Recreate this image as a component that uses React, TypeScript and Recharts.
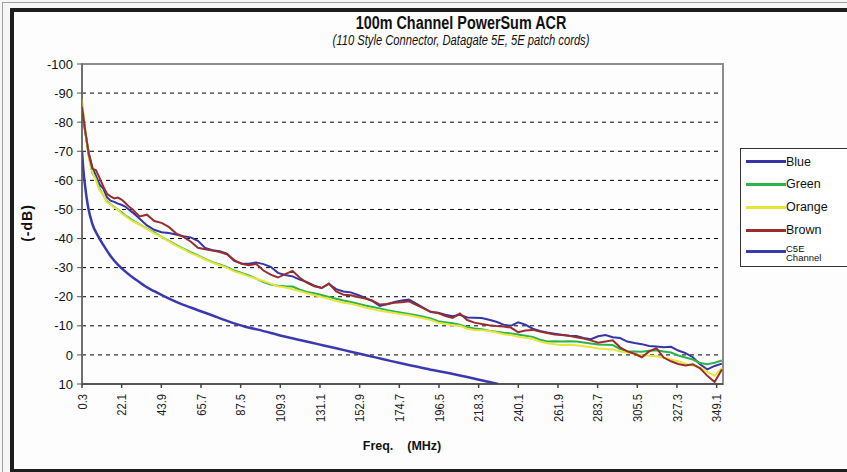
import React from "react";
import { LineChart, Line, XAxis, YAxis, CartesianGrid, ReferenceArea } from "recharts";

// frequency points (MHz) for the four measured pairs
const FREQ = [
  0.3, 2, 4, 6, 8, 10, 12, 14, 16, 18, 20, 22, 24, 26, 28, 30,
  32, 36, 40, 44, 48, 52, 56, 60, 64, 68,
  72, 76, 80, 84, 88, 92, 96, 100, 104, 108,
  112, 116, 120, 124, 128, 132, 136, 140, 144, 148,
  152, 156, 160, 164, 168, 172, 176, 180, 184, 188,
  192, 196, 200, 204, 208, 212, 216, 220, 224, 228,
  232, 236, 240, 244, 248, 252, 256, 260, 264, 268,
  272, 276, 280, 284, 288, 292, 296, 300, 304, 308,
  312, 316, 320, 324, 328, 332, 336, 340, 344, 348,
  352,
];

const BLUE = [
  -84.5, -77, -69.5, -64.5, -61.5, -58.5, -57.2, -54.2, -53.0, -52.6, -52.0, -51.6, -51.0, -50.0, -49.0, -47.9,
  -46.8, -44.5, -43.0, -42.2, -41.9, -41.4, -40.8, -40.4, -39.2, -36.8,
  -36.0, -35.6, -34.8, -32.3, -31.4, -31.3, -31.8, -31.2, -30.3, -28.2,
  -27.5, -27.0, -25.9, -25.0, -23.8, -23.0, -24.4, -22.6, -21.8, -21.5,
  -20.6, -19.6, -18.5, -16.8, -17.4, -18.2, -18.7, -19.0, -17.6, -16.2,
  -14.7, -14.5, -13.8, -13.3, -13.8, -12.9, -12.8, -12.7, -12.1, -11.4,
  -10.4, -10.0, -11.2, -10.4, -9.0, -8.2, -7.7, -7.3, -6.9, -6.6,
  -6.5, -5.8, -5.4, -6.4, -6.8, -6.1, -5.8, -4.6, -4.1, -3.7,
  -3.1, -2.9, -2.6, -2.8, -1.5, -0.6, 0.8, 3.2, 5.0, 3.8,
  3.0,
];

const GREEN = [
  -86.5, -77, -68.5, -62.5, -60.5, -57.0, -55.0, -52.8, -51.8, -50.8, -50.0, -49.0, -48.0, -47.2, -46.3, -45.6,
  -44.9, -43.4, -42.1, -40.6, -39.2, -37.8, -36.5, -35.3, -34.2, -33.0,
  -31.9, -31.1, -30.2, -29.0, -28.2, -27.3, -26.2, -25.0, -24.2, -23.8,
  -23.6, -23.5, -22.4, -21.6, -21.2, -20.6, -19.9, -19.3, -18.7, -18.2,
  -17.6, -17.0, -16.5, -16.0, -15.4, -14.9, -14.5, -14.1, -13.6, -13.1,
  -12.5, -11.6, -11.2, -10.9, -10.4, -9.5, -9.1, -8.8, -8.3, -8.0,
  -7.6, -7.4, -7.0, -6.6, -6.2, -5.2, -4.6, -4.7, -4.6, -4.7,
  -4.6, -4.3, -3.9, -3.6, -3.5, -3.4, -2.0, -1.3, -1.2, -1.1,
  -1.4, -1.6, -1.2, -0.8, 0.2, 0.9, 1.6, 2.8, 3.2, 2.7,
  1.9,
];

const ORANGE = [
  -87.8, -78, -68.0, -62.8, -60.0, -56.5, -55.2, -52.4, -51.8, -50.6, -49.9, -48.6, -47.8, -46.9, -46.0, -45.4,
  -44.8, -43.3, -41.8, -40.6, -39.0, -37.6, -36.4, -35.0, -34.0, -32.8,
  -31.7, -30.8, -29.9, -28.7, -27.9, -27.0, -26.2, -25.4, -24.5, -23.6,
  -23.2, -22.6, -21.9, -21.2, -20.5, -19.9, -19.3, -18.5, -17.9, -17.6,
  -17.0, -16.3, -15.7, -15.2, -14.8, -14.4, -14.0, -13.6, -13.1, -12.6,
  -12.0, -11.1, -10.6, -10.2, -10.0, -9.0, -8.6, -8.5, -8.2, -7.7,
  -7.1, -6.8, -6.2, -5.9, -5.5, -4.6, -4.0, -3.7, -3.4, -3.5,
  -3.3, -3.0, -2.6, -2.2, -2.0, -1.9, -1.2, -0.8, -0.4, 0.1,
  0.3, 0.5, 1.0, 1.6, 2.2, 3.0, 3.7, 4.3, 5.8, 7.2,
  4.5,
];

const BROWN = [
  -85.3, -77.5, -69.0, -64.0, -63.5, -60.8, -57.9, -55.4, -54.5, -53.8, -54.1, -53.4, -52.3, -51.0, -50.1, -48.8,
  -47.6, -48.2, -46.0, -45.4, -44.0, -41.8, -40.6, -39.0, -36.8, -36.3,
  -35.9, -35.4, -34.6, -32.6, -31.3, -30.8, -31.3, -29.0, -27.6, -26.6,
  -27.8, -28.9, -26.5, -24.8, -23.6, -23.0, -24.5, -21.8, -20.7, -20.5,
  -19.9, -19.4, -18.6, -17.3, -17.5, -17.9, -18.1, -18.4, -17.2, -16.0,
  -14.8, -14.4, -13.4, -12.7, -14.2, -12.0, -11.1, -10.6, -10.2, -9.9,
  -9.8, -9.4, -7.8, -8.4, -8.6, -8.0, -7.5, -7.0, -6.8, -6.6,
  -6.1, -5.6, -5.0, -4.2, -4.6, -5.0, -2.6, -1.2, -0.4, 0.8,
  -1.2, -2.3, 0.9, 2.2, 3.1, 3.6, 3.2, 4.6, 7.2, 9.3,
  5.0,
];

// C5E channel limit line
const C5E_FREQ = [0.3, 1, 2, 3.6, 6, 9, 12, 16, 20, 25, 30, 35, 40, 45, 53, 60, 71, 80, 90, 97, 111, 120, 130, 140, 148, 157, 166, 175, 184, 193, 203, 212, 221, 229];
const C5E_DB = [-70, -64, -58, -51, -45, -41, -37.8, -34, -31, -28.2, -25.8, -23.6, -21.9, -20.3, -18.0, -16.3, -13.8, -11.7, -9.7, -8.7, -6.4, -5.1, -3.7, -2.3, -1.1, 0.2, 1.5, 2.8, 4.0, 5.2, 6.4, 7.6, 8.9, 10];

const X_TICKS = [0.3, 22.1, 43.9, 65.7, 87.5, 109.3, 131.1, 152.9, 174.7, 196.5, 218.3, 240.1, 261.9, 283.7, 305.5, 327.3, 349.1];
const Y_TICKS = [-100, -90, -80, -70, -60, -50, -40, -30, -20, -10, 0, 10];

const SERIES = [
  { key: "blue", name: "Blue", color: "#3535a5" },
  { key: "green", name: "Green", color: "#2db34a" },
  { key: "orange", name: "Orange", color: "#e6e63a" },
  { key: "brown", name: "Brown", color: "#9a2e2e" },
];
const C5E = { name: "C5E Channel", color: "#3a3ab0" };

const data = FREQ.map((f, i) => ({ f, blue: BLUE[i], green: GREEN[i], orange: ORANGE[i], brown: BROWN[i] }));
const c5eData = C5E_FREQ.map((f, i) => ({ f, c5e: C5E_DB[i] }));

const XTick = (props: any) => {
  const { x, y, payload } = props;
  return (
    <text
      transform={`translate(${x}, ${y}) rotate(-90) scale(0.86, 1)`}
      textAnchor="end"
      dy="0.35em"
      fontSize={13}
      fontFamily="'Liberation Sans', Arial, sans-serif"
      fill="#222"
    >
      {payload.value.toFixed(1)}
    </text>
  );
};

const condensed = { transform: "scaleX(0.8)", transformOrigin: "center" };

function Legend() {
  const rows = [...SERIES, C5E];
  const centers = [12.5, 35, 58, 81, 102.5];
  return (
    <div style={{ position: "absolute", left: 740, top: 148, width: 120, height: 119, border: "1px solid #333", background: "#fff", boxSizing: "border-box" }}>
      {rows.map((s, i) => (
        <React.Fragment key={s.name}>
          <div style={{ position: "absolute", left: 5, top: centers[i] - 1.5, width: 40, height: 3, background: s.color }} />
          {s.name === "C5E Channel" ? (
            <>
              <div style={{ position: "absolute", left: 45, top: centers[i] - 8, fontSize: 9.5, lineHeight: "9px", height: 9, color: "#111" }}>C5E</div>
              <div style={{ position: "absolute", left: 45, top: centers[i] + 1.5, fontSize: 9.5, lineHeight: "9px", height: 9, color: "#111" }}>Channel</div>
            </>
          ) : (
            <div style={{ position: "absolute", left: 45, top: centers[i] - 8, fontSize: 12.5, lineHeight: "16px", color: "#111" }}>{s.name}</div>
          )}
        </React.Fragment>
      ))}
    </div>
  );
}

export default function App() {
  return (
    <div style={{ position: "absolute", left: 0, top: 0, width: 847, height: 472, overflow: "hidden", background: "#f6f6f6", fontFamily: "'Liberation Sans', Arial, sans-serif" }}>
      <div style={{ position: "absolute", left: 2, top: 2, width: 900, height: 520, border: "1px solid #a0a0a0" }} />
      <div style={{ position: "absolute", left: 10, top: 8, width: 900, height: 465, border: "4px solid #1e1e1e", background: "#fdfdfd", boxSizing: "border-box" }} />

      <div style={{ position: "absolute", left: 211, width: 500, top: 15, height: 17, lineHeight: "17px", textAlign: "center", fontWeight: 700, fontSize: 18, color: "#111", ...condensed }}>
        100m Channel PowerSum ACR
      </div>
      <div style={{ position: "absolute", left: 211, width: 500, top: 33, height: 14, lineHeight: "14px", textAlign: "center", fontStyle: "italic", fontSize: 14, color: "#111", ...condensed }}>
        (110 Style Connector, Datagate 5E, 5E patch cords)
      </div>

      <div style={{ position: "absolute", left: 0, top: 0 }}>
        <LineChart width={847} height={472} data={data} margin={{ top: 64, right: 124, bottom: 38, left: 22 }}>
          <CartesianGrid horizontal vertical={false} stroke="#000" strokeDasharray="4 4" />
          <XAxis
            type="number"
            dataKey="f"
            domain={[0.3, 352.6]}
            ticks={X_TICKS}
            interval={0}
            allowDataOverflow
            height={50}
            tick={<XTick />}
            tickSize={4}
            tickMargin={6}
            stroke="#444"
            strokeWidth={1.5}
          />
          <YAxis
            type="number"
            domain={[-100, 10]}
            ticks={Y_TICKS}
            reversed
            allowDataOverflow
            width={60}
            tickSize={5}
            tickMargin={4}
            tick={{ fontSize: 13, fill: "#111", fontFamily: "'Liberation Sans', Arial, sans-serif" }}
            stroke="#555"
          />
          <ReferenceArea x1={0.3} x2={352.6} y1={-100} y2={10} fill="none" fillOpacity={0} stroke="#8c8c8c" strokeWidth={2} ifOverflow="visible" />
          {SERIES.map((s) => (
            <Line key={s.key} type="linear" dataKey={s.key} name={s.name} stroke={s.color} strokeWidth={2} dot={false} isAnimationActive={false} />
          ))}
          <Line data={c5eData} type="monotone" dataKey="c5e" name={C5E.name} stroke={C5E.color} strokeWidth={2.5} dot={false} isAnimationActive={false} />
        </LineChart>
      </div>

      <div style={{ position: "absolute", left: 27, top: 223, transform: "translate(-50%, -50%) rotate(-90deg)", fontWeight: 700, fontSize: 14, letterSpacing: 1, color: "#111", whiteSpace: "nowrap" }}>
        (-dB)
      </div>
      <div style={{ position: "absolute", left: 302, width: 200, top: 439, textAlign: "center", fontWeight: 700, fontSize: 12.5, color: "#111", whiteSpace: "pre" }}>
        {"Freq.    (MHz)"}
      </div>

      <Legend />
    </div>
  );
}
